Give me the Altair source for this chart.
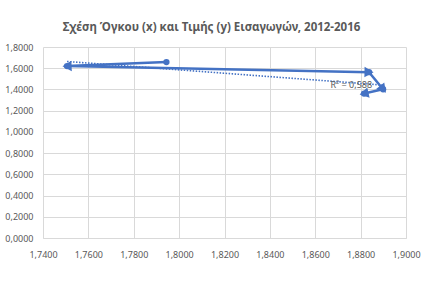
import altair as alt
import pandas as pd

# ---- data ----
years = [2012, 2013, 2014, 2015, 2016]
volume_x = [1.7944, 1.7506, 1.8837, 1.8899, 1.8815]
price_y = [1.658, 1.620, 1.563, 1.402, 1.361]
x_ticks = [1.74, 1.76, 1.78, 1.80, 1.82, 1.84, 1.86, 1.88, 1.90]
y_ticks = [0.0, 0.2, 0.4, 0.6, 0.8, 1.0, 1.2, 1.4, 1.6, 1.8]
title_text = "Σχέση Όγκου (x) και Τιμής (y) Εισαγωγών, 2012-2016"

W, H = 363, 191
X_DOM = [1.74, 1.90]
Y_DOM = [0.0, 1.8]
BLUE = "#4472C4"
GREY = "#595959"
FONT = "Noto Sans"

df = pd.DataFrame({"year": years, "x": volume_x, "y": price_y})

label_expr = "replace(format(datum.value, '.4f'), '.', ',')"
xs = alt.Scale(domain=X_DOM, nice=False, zero=False)
ys = alt.Scale(domain=Y_DOM, nice=False, zero=True)
xaxis = alt.Axis(values=x_ticks, labelExpr=label_expr, title=None, grid=True,
                 gridColor="#d9d9d9", domain=True, domainColor="#d9d9d9", ticks=False,
                 labelColor=GREY, labelFont=FONT, labelFontSize=9, labelPadding=12,
                 labelOverlap=False, labelFlush=False, labelBound=False)
yaxis = alt.Axis(values=y_ticks, labelExpr=label_expr, title=None, grid=True,
                 gridColor="#d9d9d9", domain=False, ticks=False,
                 labelColor=GREY, labelFont=FONT, labelFontSize=9, labelPadding=10,
                 labelOverlap=False, labelFlush=False, labelBound=False)


def X(f):
    return alt.X(f, scale=xs, axis=xaxis)


def Y(f):
    return alt.Y(f, scale=ys, axis=yaxis)


base = alt.Chart(df)

line = base.mark_line(color=BLUE, strokeWidth=2.5).encode(
    x=X("x:Q"), y=Y("y:Q"), order="year:O",
)

pts = base.mark_point(color=BLUE, filled=True, opacity=1, size=40, shape="circle").encode(
    x=X("x:Q"), y=Y("y:Q")
)

# arrow heads at the end of each segment, direction computed in pixel space
ang = (
    f"(atan2(-(datum.y - datum.py) * {H} / {Y_DOM[1] - Y_DOM[0]}, "
    f"(datum.x - datum.px) * {W} / {X_DOM[1] - X_DOM[0]}) * 180 / PI + 360) % 360"
)
arrows = base.transform_window(
    px="lag(x)", py="lag(y)", sort=[alt.SortField("year")]
).transform_filter("datum.px != null").transform_calculate(
    ang=ang
).mark_point(color=BLUE, filled=True, opacity=1, size=110, shape="triangle-right").encode(
    x=X("x:Q"), y=Y("y:Q"), angle=alt.Angle("ang:Q", scale=None)
)

trend = base.transform_regression("x", "y", method="linear").mark_line(
    color=BLUE, strokeWidth=1.6, strokeDash=[1.5, 1.5]
).encode(x=X("x:Q"), y=Y("y:Q"))

xmax = max(volume_x)
r2 = base.transform_regression("x", "y", method="linear", params=True).transform_calculate(
    x=f"{xmax}",
    y=f"datum.coef[0] + datum.coef[1] * {xmax}",
    label="'R² = ' + replace(format(datum.rSquared, '.3f'), '.', ',')",
).mark_text(align="right", baseline="middle", dx=-11, dy=0, font=FONT, fontSize=9,
            color=GREY).encode(
    x=X("x:Q"), y=Y("y:Q"), text="label:N"
)

chart = alt.layer(trend, line, pts, arrows, r2).properties(
    width=W, height=H,
    title=alt.TitleParams(title_text, font=FONT, fontSize=11.5, fontWeight="bold",
                          color=GREY, anchor="middle", offset=10, dx=-13),
    padding={"left": 43, "top": 47, "right": 18, "bottom": 44},
    autosize=alt.AutoSizeParams(type="none"),
    background="white",
).configure_view(stroke=None)

chart.save("out.html", embed_options={"renderer": "svg", "actions": False})
